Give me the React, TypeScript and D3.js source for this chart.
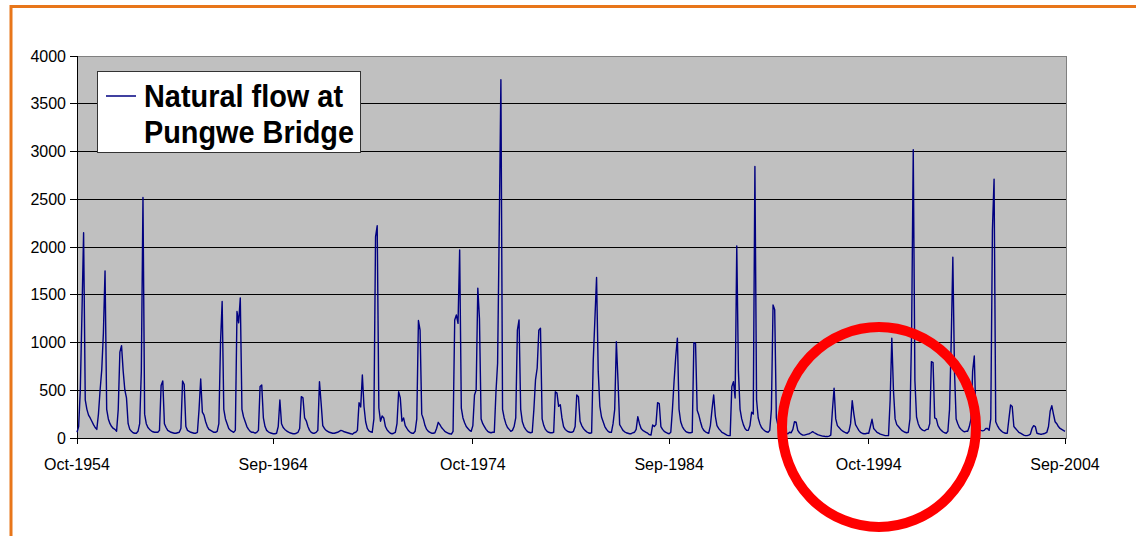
import * as d3 from "d3";

// monthly natural flow, hydrological years Oct..Sep, one row per year
const FLOW_1954_64 = [
  [60, 120, 500, 1300, 2150, 400, 300, 240, 210, 175, 140, 110],
  [90, 250, 500, 712, 1100, 1750, 300, 200, 150, 120, 100, 90],
  [70, 300, 900, 967, 700, 503, 420, 150, 90, 70, 55, 50],
  [50, 70, 150, 700, 2518, 250, 150, 110, 90, 75, 65, 60],
  [60, 60, 80, 550, 597, 150, 110, 80, 70, 60, 55, 50],
  [50, 55, 60, 100, 597, 560, 120, 80, 70, 60, 55, 50],
  [50, 60, 300, 618, 270, 240, 170, 120, 90, 80, 70, 60],
  [60, 70, 150, 995, 1429, 300, 200, 150, 100, 80, 70, 60],
  [80, 1324, 1206, 1467, 300, 220, 170, 120, 90, 70, 60, 60],
  [50, 60, 80, 540, 555, 210, 120, 80, 65, 55, 50, 45],
];
const FLOW_1964_74 = [
  [45, 50, 120, 398, 150, 110, 90, 75, 65, 55, 50, 45],
  [45, 50, 60, 100, 433, 420, 210, 180, 120, 80, 60, 50],
  [50, 60, 80, 590, 367, 130, 100, 80, 70, 60, 55, 50],
  [50, 55, 60, 70, 80, 75, 65, 60, 55, 50, 45, 40],
  [55, 60, 80, 370, 325, 660, 330, 170, 100, 75, 65, 60],
  [200, 2107, 2222, 314, 176, 230, 210, 120, 85, 65, 50, 45],
  [50, 60, 150, 485, 420, 176, 210, 130, 100, 75, 60, 50],
  [50, 70, 200, 1230, 1130, 250, 200, 130, 90, 70, 60, 50],
  [50, 55, 100, 164, 140, 110, 90, 70, 60, 50, 45, 40],
  [70, 1236, 1288, 1200, 1970, 314, 210, 160, 120, 100, 80, 70],
];
const FLOW_1974_84 = [
  [130, 450, 503, 1569, 1250, 200, 150, 120, 90, 70, 60, 55],
  [60, 60, 480, 783, 2200, 3752, 300, 210, 150, 110, 90, 70],
  [80, 120, 210, 1130, 1236, 300, 170, 120, 90, 70, 60, 55],
  [60, 300, 612, 733, 1130, 1150, 200, 130, 90, 70, 60, 55],
  [55, 60, 485, 470, 332, 349, 210, 120, 90, 75, 65, 60],
  [60, 70, 120, 450, 433, 176, 130, 100, 80, 65, 55, 50],
  [55, 817, 1250, 1680, 700, 332, 220, 170, 120, 90, 70, 60],
  [60, 150, 300, 1009, 600, 140, 110, 80, 65, 55, 50, 45],
  [45, 55, 60, 90, 224, 150, 100, 80, 70, 60, 50, 35],
  [30, 136, 120, 140, 370, 360, 120, 90, 70, 60, 50, 45],
];
const FLOW_1984_94 = [
  [60, 300, 597, 850, 1045, 300, 170, 120, 90, 70, 60, 55],
  [55, 60, 999, 990, 290, 240, 170, 110, 80, 65, 55, 50],
  [130, 300, 450, 230, 130, 100, 80, 60, 50, 40, 30, 25],
  [25, 538, 590, 419, 2012, 700, 300, 200, 140, 100, 80, 80],
  [130, 270, 250, 2843, 400, 210, 150, 110, 90, 75, 65, 60],
  [80, 300, 1394, 1342, 210, 130, 100, 80, 65, 55, 50, 45],
  [60, 55, 90, 171, 165, 80, 55, 40, 30, 30, 35, 40],
  [45, 55, 66, 55, 45, 35, 30, 25, 20, 18, 15, 15],
  [20, 30, 290, 521, 200, 130, 110, 90, 75, 65, 55, 50],
  [70, 150, 391, 250, 140, 110, 80, 60, 50, 45, 45, 50],
];
const FLOW_1994_04 = [
  [50, 120, 196, 100, 80, 60, 50, 40, 35, 30, 25, 25],
  [25, 400, 1045, 500, 200, 140, 120, 100, 80, 70, 60, 55],
  [60, 200, 1100, 3018, 600, 220, 150, 110, 90, 80, 75, 90],
  [90, 150, 800, 790, 210, 200, 130, 100, 80, 65, 55, 50],
  [70, 300, 1000, 1893, 700, 200, 150, 110, 90, 75, 65, 70],
  [70, 120, 200, 700, 859, 210, 120, 90, 80, 75, 80, 100],
  [100, 80, 200, 2180, 2711, 170, 130, 100, 80, 65, 55, 50],
  [50, 200, 346, 330, 120, 100, 80, 60, 50, 40, 30, 25],
  [25, 30, 40, 100, 129, 120, 50, 45, 40, 40, 45, 50],
  [60, 120, 280, 339, 250, 170, 150, 120, 100, 90, 80, 70],
];

const Y_TICKS = [0, 500, 1000, 1500, 2000, 2500, 3000, 3500, 4000];
const X_TICK_INDEX = [0, 119, 240, 359, 480, 599];
const SERIES_NAME = ["Natural flow at", "Pungwe Bridge"];

const START = new Date(1954, 9, 1);
const WIDTH = 1136;
const HEIGHT = 536;
const FONT = "'Liberation Sans', Arial, sans-serif";

const flow = [
  ...FLOW_1954_64,
  ...FLOW_1964_74,
  ...FLOW_1974_84,
  ...FLOW_1984_94,
  ...FLOW_1994_04,
].flat();
const months = flow.map((_, i) => d3.timeMonth.offset(START, i));
const fmt = d3.timeFormat("%b-%Y");

const App = () => {
  const plot = { left: 77, right: 1066, top: 56, bottom: 438 };
  const x = d3
    .scaleLinear()
    .domain([0, flow.length - 1])
    .range([plot.left, plot.right - 1]);
  const y = d3.scaleLinear().domain([0, 4000]).range([plot.bottom, plot.top]);
  const line = d3
    .line<number>()
    .x((_, i) => x(i))
    .y((d) => y(d));

  return (
    <svg
      width={WIDTH}
      height={HEIGHT}
      style={{ position: "absolute", left: 0, top: 0, background: "#fff" }}
      fontFamily={FONT}
    >
      {/* orange slide frame */}
      <line x1={11} y1={6.5} x2={WIDTH} y2={6.5} stroke="#E8761A" strokeWidth={3} />
      <line x1={11} y1={5} x2={11} y2={HEIGHT} stroke="#E8761A" strokeWidth={3} />

      <rect
        x={plot.left}
        y={plot.top}
        width={plot.right - plot.left}
        height={plot.bottom - plot.top}
        fill="#C0C0C0"
        stroke="#808080"
        strokeWidth={1}
        shapeRendering="crispEdges"
      />
      <g shapeRendering="crispEdges">
        {Y_TICKS.slice(1, -1).map((t) => (
          <line
            key={t}
            x1={plot.left}
            x2={plot.right}
            y1={y(t)}
            y2={y(t)}
            stroke="#000"
            strokeWidth={1}
          />
        ))}
        {/* axes */}
        <line x1={plot.left} x2={plot.left} y1={plot.top} y2={plot.bottom} stroke="#000" />
        <line x1={plot.left} x2={plot.right} y1={plot.bottom} y2={plot.bottom} stroke="#000" />
        {Y_TICKS.map((t) => (
          <line key={t} x1={plot.left - 7} x2={plot.left} y1={y(t)} y2={y(t)} stroke="#000" />
        ))}
        {X_TICK_INDEX.map((i) => (
          <line key={i} x1={x(i)} x2={x(i)} y1={plot.bottom} y2={plot.bottom + 6} stroke="#000" />
        ))}
      </g>

      <g fontSize={16} fill="#000">
        {Y_TICKS.map((t) => (
          <text key={t} x={plot.left - 11} y={y(t)} dy="0.35em" textAnchor="end">
            {t}
          </text>
        ))}
        {X_TICK_INDEX.map((i) => (
          <text key={i} x={x(i)} y={plot.bottom + 32} textAnchor="middle">
            {fmt(months[i])}
          </text>
        ))}
      </g>

      <path d={line(flow) ?? ""} fill="none" stroke="#000080" strokeWidth={1.4} strokeLinejoin="round" />

      {/* legend */}
      <g>
        <rect x={97.5} y={71.5} width={263} height={81} fill="#fff" stroke="#333" strokeWidth={1} />
        <line x1={106} x2={136} y1={96} y2={96} stroke="#000080" strokeWidth={1.5} />
        <text x={144} y={107} fontSize={32} fontWeight="bold" textLength={199} lengthAdjust="spacingAndGlyphs">
          {SERIES_NAME[0]}
        </text>
        <text x={144} y={143} fontSize={32} fontWeight="bold" textLength={210} lengthAdjust="spacingAndGlyphs">
          {SERIES_NAME[1]}
        </text>
      </g>

      {/* red highlight ring */}
      <ellipse cx={879} cy={427} rx={97} ry={100} fill="none" stroke="#FF0000" strokeWidth={10} />
    </svg>
  );
};

export default App;
